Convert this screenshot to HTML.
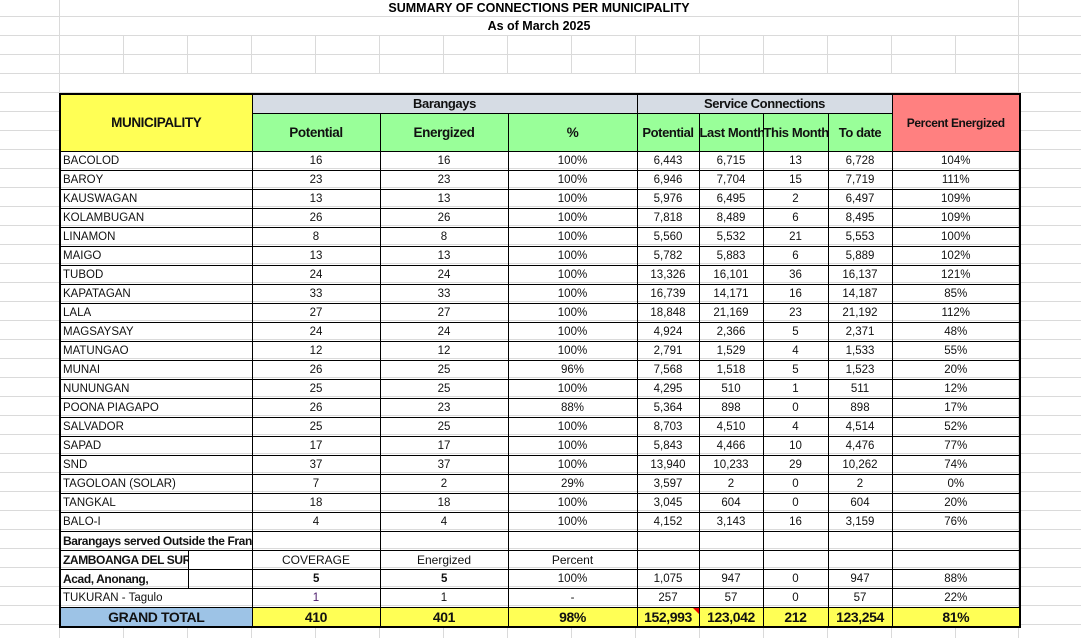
<!DOCTYPE html>
<html><head><meta charset="utf-8">
<style>
html,body{margin:0;padding:0;width:1081px;height:638px;overflow:hidden;background:#fff;position:relative;font-family:"Liberation Sans",Arial,sans-serif;}
.h{position:absolute;left:0;width:1081px;height:1px;background:#dadada;}
.v{position:absolute;width:1px;background:#dadada;}
.title{position:absolute;left:59px;width:960px;text-align:center;font-weight:bold;font-size:12.5px;color:#000;}
table{position:absolute;left:59px;top:93px;width:960px;border-collapse:collapse;table-layout:fixed;border:2px solid #000;}
td{border:1px solid #000;padding:0;height:18px;font-size:11.5px;text-align:center;white-space:nowrap;overflow:hidden;color:#111;line-height:18px;}
td.l{text-align:left;padding-left:2px;}
.hd{font-weight:bold;font-size:13.5px;letter-spacing:-0.4px;}
.y{background:#ffff55;}
.g{background:#99ff99;}
.gr{background:#d6dce4;}
.r{background:#ff8080;}
.b{font-weight:bold;letter-spacing:-0.4px;}
.gt td{background:#ffff55;font-weight:bold;font-size:14px;letter-spacing:-0.4px;}
.gt td.bl{background:#9dc3e6;}
.rel{position:relative;}
.sep{position:absolute;left:127px;top:0;width:1px;height:100%;background:#000;}
.mask{position:absolute;left:128px;top:0;width:70px;height:100%;background:#fff;}
</style></head><body>
<div class="h" style="top:16px"></div><div class="h" style="top:35px"></div><div class="h" style="top:54px"></div><div class="h" style="top:73px"></div><div class="h" style="top:92px"></div>
<div class="h" style="top:111px"></div><div class="h" style="top:130px"></div><div class="h" style="top:149px"></div><div class="h" style="top:168px"></div><div class="h" style="top:187px"></div><div class="h" style="top:206px"></div><div class="h" style="top:225px"></div><div class="h" style="top:244px"></div><div class="h" style="top:263px"></div><div class="h" style="top:282px"></div><div class="h" style="top:301px"></div><div class="h" style="top:320px"></div><div class="h" style="top:339px"></div><div class="h" style="top:358px"></div><div class="h" style="top:377px"></div><div class="h" style="top:396px"></div><div class="h" style="top:415px"></div><div class="h" style="top:434px"></div><div class="h" style="top:453px"></div><div class="h" style="top:472px"></div><div class="h" style="top:491px"></div><div class="h" style="top:510px"></div><div class="h" style="top:529px"></div><div class="h" style="top:548px"></div><div class="h" style="top:567px"></div><div class="h" style="top:586px"></div><div class="h" style="top:605px"></div><div class="h" style="top:624px"></div>
<div class="v" style="left:59px;top:0;height:638px"></div>
<div class="v" style="left:1018px;top:0;height:638px"></div>
<div style="position:absolute;left:0;top:35px;width:1081px;height:38px">
<div class="v" style="left:123px;top:0;height:38px"></div><div class="v" style="left:187px;top:0;height:38px"></div><div class="v" style="left:251px;top:0;height:38px"></div><div class="v" style="left:315px;top:0;height:38px"></div><div class="v" style="left:379px;top:0;height:38px"></div><div class="v" style="left:443px;top:0;height:38px"></div><div class="v" style="left:507px;top:0;height:38px"></div><div class="v" style="left:571px;top:0;height:38px"></div><div class="v" style="left:635px;top:0;height:38px"></div><div class="v" style="left:699px;top:0;height:38px"></div><div class="v" style="left:763px;top:0;height:38px"></div><div class="v" style="left:827px;top:0;height:38px"></div><div class="v" style="left:891px;top:0;height:38px"></div><div class="v" style="left:955px;top:0;height:38px"></div>
</div>
<div style="position:absolute;left:0;top:625px;width:1081px;height:13px">
<div class="v" style="left:123px;top:0;height:13px"></div><div class="v" style="left:187px;top:0;height:13px"></div><div class="v" style="left:251px;top:0;height:13px"></div><div class="v" style="left:315px;top:0;height:13px"></div><div class="v" style="left:379px;top:0;height:13px"></div><div class="v" style="left:443px;top:0;height:13px"></div><div class="v" style="left:507px;top:0;height:13px"></div><div class="v" style="left:571px;top:0;height:13px"></div><div class="v" style="left:635px;top:0;height:13px"></div><div class="v" style="left:699px;top:0;height:13px"></div><div class="v" style="left:763px;top:0;height:13px"></div><div class="v" style="left:827px;top:0;height:13px"></div><div class="v" style="left:891px;top:0;height:13px"></div><div class="v" style="left:955px;top:0;height:13px"></div>
</div>
<div class="title" style="top:0px;line-height:16px">SUMMARY OF CONNECTIONS PER MUNICIPALITY</div>
<div class="title" style="top:17px;line-height:18px">As of March 2025</div>

<table>
<colgroup><col style="width:192px"><col style="width:128px"><col style="width:128px"><col style="width:129px"><col style="width:62px"><col style="width:64px"><col style="width:65px"><col style="width:64px"><col style="width:128px"></colgroup>
<tr><td rowspan="2" class="y hd" style="font-size:13.5px">MUNICIPALITY</td><td colspan="3" class="gr hd" style="font-size:13px">Barangays</td><td colspan="4" class="gr hd" style="font-size:13px">Service Connections</td><td rowspan="2" class="r b" style="font-size:12px">Percent Energized</td></tr>
<tr><td class="g hd" style="height:37px">Potential</td><td class="g hd">Energized</td><td class="g hd">%</td><td class="g hd" style="font-size:13px">Potential</td><td class="g hd" style="font-size:13px">Last Month</td><td class="g hd" style="font-size:13px">This Month</td><td class="g hd" style="font-size:13px">To date</td></tr>
<tr><td class="l">BACOLOD</td><td>16</td><td>16</td><td>100%</td><td>6,443</td><td>6,715</td><td>13</td><td>6,728</td><td>104%</td></tr>
<tr><td class="l">BAROY</td><td>23</td><td>23</td><td>100%</td><td>6,946</td><td>7,704</td><td>15</td><td>7,719</td><td>111%</td></tr>
<tr><td class="l">KAUSWAGAN</td><td>13</td><td>13</td><td>100%</td><td>5,976</td><td>6,495</td><td>2</td><td>6,497</td><td>109%</td></tr>
<tr><td class="l">KOLAMBUGAN</td><td>26</td><td>26</td><td>100%</td><td>7,818</td><td>8,489</td><td>6</td><td>8,495</td><td>109%</td></tr>
<tr><td class="l">LINAMON</td><td>8</td><td>8</td><td>100%</td><td>5,560</td><td>5,532</td><td>21</td><td>5,553</td><td>100%</td></tr>
<tr><td class="l">MAIGO</td><td>13</td><td>13</td><td>100%</td><td>5,782</td><td>5,883</td><td>6</td><td>5,889</td><td>102%</td></tr>
<tr><td class="l">TUBOD</td><td>24</td><td>24</td><td>100%</td><td>13,326</td><td>16,101</td><td>36</td><td>16,137</td><td>121%</td></tr>
<tr><td class="l">KAPATAGAN</td><td>33</td><td>33</td><td>100%</td><td>16,739</td><td>14,171</td><td>16</td><td>14,187</td><td>85%</td></tr>
<tr><td class="l">LALA</td><td>27</td><td>27</td><td>100%</td><td>18,848</td><td>21,169</td><td>23</td><td>21,192</td><td>112%</td></tr>
<tr><td class="l">MAGSAYSAY</td><td>24</td><td>24</td><td>100%</td><td>4,924</td><td>2,366</td><td>5</td><td>2,371</td><td>48%</td></tr>
<tr><td class="l">MATUNGAO</td><td>12</td><td>12</td><td>100%</td><td>2,791</td><td>1,529</td><td>4</td><td>1,533</td><td>55%</td></tr>
<tr><td class="l">MUNAI</td><td>26</td><td>25</td><td>96%</td><td>7,568</td><td>1,518</td><td>5</td><td>1,523</td><td>20%</td></tr>
<tr><td class="l">NUNUNGAN</td><td>25</td><td>25</td><td>100%</td><td>4,295</td><td>510</td><td>1</td><td>511</td><td>12%</td></tr>
<tr><td class="l">POONA PIAGAPO</td><td>26</td><td>23</td><td>88%</td><td>5,364</td><td>898</td><td>0</td><td>898</td><td>17%</td></tr>
<tr><td class="l">SALVADOR</td><td>25</td><td>25</td><td>100%</td><td>8,703</td><td>4,510</td><td>4</td><td>4,514</td><td>52%</td></tr>
<tr><td class="l">SAPAD</td><td>17</td><td>17</td><td>100%</td><td>5,843</td><td>4,466</td><td>10</td><td>4,476</td><td>77%</td></tr>
<tr><td class="l">SND</td><td>37</td><td>37</td><td>100%</td><td>13,940</td><td>10,233</td><td>29</td><td>10,262</td><td>74%</td></tr>
<tr><td class="l">TAGOLOAN (SOLAR)</td><td>7</td><td>2</td><td>29%</td><td>3,597</td><td>2</td><td>0</td><td>2</td><td>0%</td></tr>
<tr><td class="l">TANGKAL</td><td>18</td><td>18</td><td>100%</td><td>3,045</td><td>604</td><td>0</td><td>604</td><td>20%</td></tr>
<tr><td class="l">BALO-I</td><td>4</td><td>4</td><td>100%</td><td>4,152</td><td>3,143</td><td>16</td><td>3,159</td><td>76%</td></tr>
<tr><td class="l b" style="font-size:12px">Barangays served Outside the Franchise</td><td></td><td></td><td></td><td></td><td></td><td></td><td></td><td></td></tr>
<tr><td class="l b rel" style="font-size:12px">ZAMBOANGA DEL SUR<div class="mask"></div><div class="sep"></div></td><td style="font-size:12px">COVERAGE</td><td style="font-size:12px">Energized</td><td style="font-size:12px">Percent</td><td></td><td></td><td></td><td></td><td></td></tr>
<tr><td class="l b rel" style="font-size:12px">Acad, Anonang,<div class="sep"></div></td><td class="b">5</td><td class="b">5</td><td>100%</td><td>1,075</td><td>947</td><td>0</td><td>947</td><td>88%</td></tr>
<tr><td class="l">TUKURAN - Tagulo</td><td style="color:#4b1a6b">1</td><td>1</td><td>-</td><td>257</td><td>57</td><td>0</td><td>57</td><td>22%</td></tr>
<tr class="gt"><td class="bl">GRAND TOTAL</td><td>410</td><td>401</td><td>98%</td><td class="rel">152,993<span style="position:absolute;right:0;top:0;width:0;height:0;border-top:6px solid #e00;border-left:6px solid transparent"></span></td><td>123,042</td><td>212</td><td>123,254</td><td>81%</td></tr>
</table>
</body></html>
